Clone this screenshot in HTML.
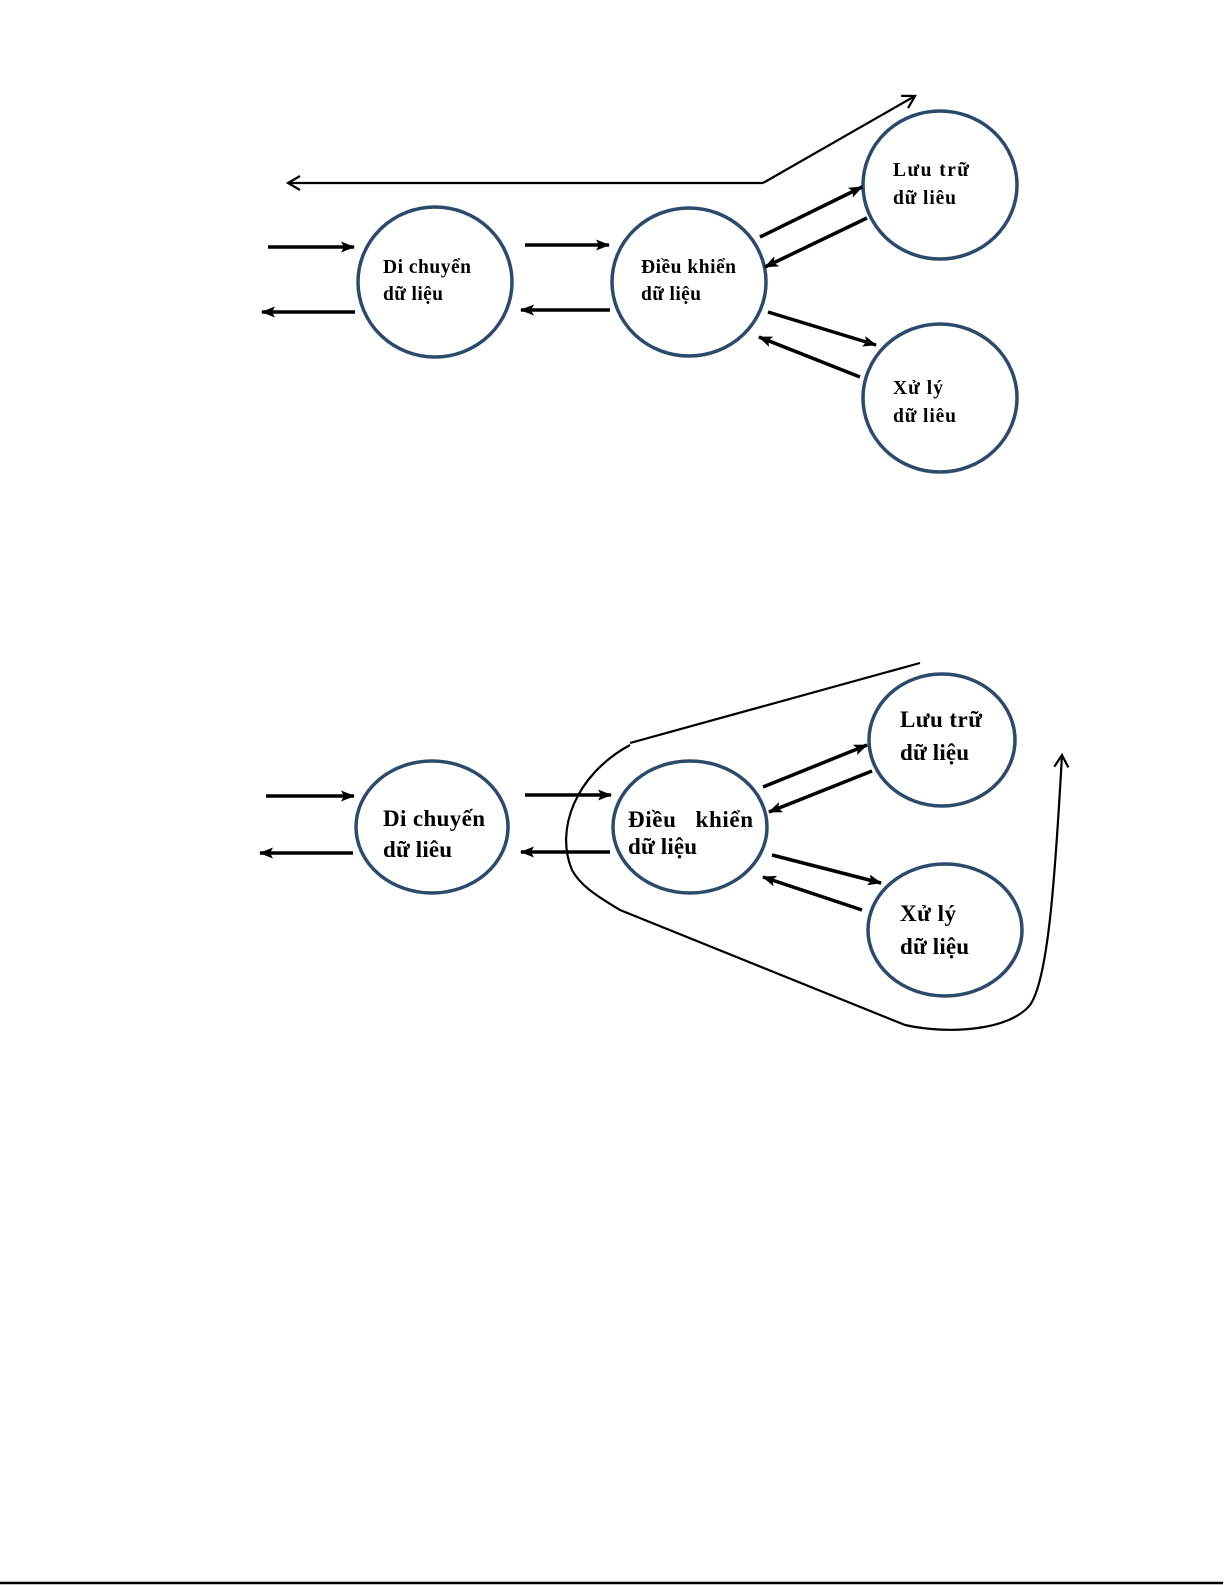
<!DOCTYPE html>
<html><head><meta charset="utf-8"><style>
html,body{margin:0;padding:0;background:#fff;}
svg{display:block;}
text{font-family:"Liberation Serif",serif;font-weight:bold;fill:#000;}
</style></head><body>
<svg width="1225" height="1585" viewBox="0 0 1225 1585" xmlns="http://www.w3.org/2000/svg">
<defs>
<marker id="a" markerWidth="16" markerHeight="14" refX="13" refY="7" orient="auto" markerUnits="userSpaceOnUse"><path d="M0,1.5 L14,7 L0,12.5 L3,7 Z" fill="#000"/></marker>
<marker id="o" markerWidth="20" markerHeight="20" refX="14" refY="10" orient="auto" markerUnits="userSpaceOnUse"><path d="M2,3 L14,10 L2,17" fill="none" stroke="#000" stroke-width="2.2"/></marker>
</defs>
<g fill="none" stroke="#2e4a6b" stroke-width="3.5">
<ellipse cx="435" cy="282" rx="77" ry="75"/>
<ellipse cx="689" cy="282" rx="77" ry="74"/>
<ellipse cx="940" cy="185" rx="77" ry="74"/>
<ellipse cx="940" cy="398" rx="77" ry="74"/>
<ellipse cx="432" cy="827" rx="76" ry="66"/>
<ellipse cx="690" cy="827" rx="77" ry="66"/>
<ellipse cx="942" cy="740" rx="73" ry="66"/>
<ellipse cx="945" cy="930" rx="77" ry="66"/>
</g>
<g stroke="#000" stroke-width="3.5" marker-end="url(#a)">
<line x1="268" y1="247" x2="354" y2="247"/>
<line x1="355" y1="312" x2="262" y2="312"/>
<line x1="525" y1="245" x2="609" y2="245"/>
<line x1="610" y1="310" x2="521" y2="310"/>
<line x1="760" y1="237" x2="862" y2="187"/>
<line x1="867" y1="218" x2="765" y2="267"/>
<line x1="768" y1="312" x2="876" y2="345"/>
<line x1="860" y1="377" x2="759" y2="337"/>
<line x1="266" y1="796" x2="354" y2="796"/>
<line x1="353" y1="853" x2="260" y2="853"/>
<line x1="525" y1="795" x2="611" y2="795"/>
<line x1="610" y1="852" x2="521" y2="852"/>
<line x1="763" y1="787" x2="867" y2="745"/>
<line x1="872" y1="771" x2="769" y2="812"/>
<line x1="772" y1="855" x2="881" y2="883"/>
<line x1="862" y1="910" x2="763" y2="877"/>
</g>
<g fill="none" stroke="#000" stroke-width="2.2">
<path d="M763,183 L288,183" marker-end="url(#o)"/>
<path d="M763,183 L915,96" marker-end="url(#o)"/>
<path d="M920,663 L630,743"/>
<path d="M630,745 C575,775 555,830 572,870 C580,885 595,895 620,910 L905,1025 C950,1035 1010,1030 1030,1005 C1048,980 1055,880 1062,755" marker-end="url(#o)"/>
<line x1="0" y1="1583" x2="1223" y2="1583" stroke-width="2.5"/>
</g>
<g font-size="19.5">
<text x="383" y="273" textLength="88">Di chuyển</text>
<text x="383" y="300" textLength="60">dữ liệu</text>
<text x="641" y="273" textLength="95">Điều khiển</text>
<text x="641" y="300" textLength="60">dữ liệu</text>
<text x="893" y="176" textLength="76">Lưu trữ</text>
<text x="893" y="204" textLength="63">dữ liêu</text>
<text x="893" y="394" textLength="50">Xử lý</text>
<text x="893" y="422" textLength="63">dữ liêu</text>
</g>
<g font-size="23">
<text x="383" y="826" textLength="102">Di chuyến</text>
<text x="383" y="857" textLength="69">dữ liêu</text>
<text x="628" y="827" xml:space="preserve" textLength="125">Điều   khiển</text>
<text x="628" y="854" textLength="69">dữ liệu</text>
<text x="900" y="727" textLength="82">Lưu trữ</text>
<text x="900" y="760" textLength="69">dữ liệu</text>
<text x="900" y="921" textLength="56">Xử lý</text>
<text x="900" y="954" textLength="69">dữ liệu</text>
</g>
</svg>
</body></html>
